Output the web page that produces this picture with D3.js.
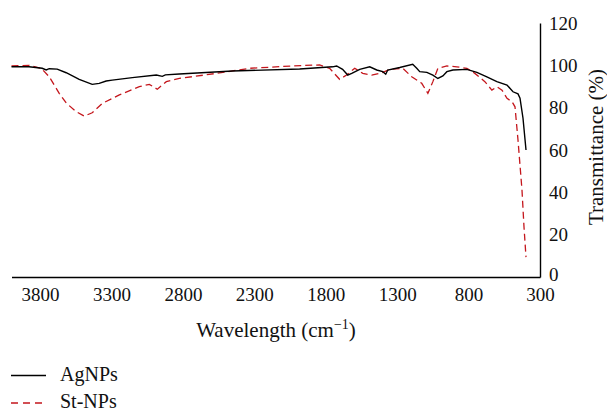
<!DOCTYPE html>
<html><head><meta charset="utf-8">
<script src="https://cdn.jsdelivr.net/npm/d3@7"></script>
<style>
html,body{margin:0;padding:0;background:#fff;}
svg{display:block;font-family:"Liberation Serif","DejaVu Serif",serif;}
</style></head>
<body><svg id="c" width="607" height="412"></svg>
<script>
// Data
const agWave = [4000,3877,3785,3757,3736,3680,3617,3526,3435,3386,3337,3295,3154,2986,2944,2923,2825,2453,1983,1752,1724,1682,1646,1618,1562,1492,1443,1401,1380,1366,1282,1191,1163,1142,1092,1050,1015,980,952,910,812,742,672,602,531,489,454,440,419,398];
const agT    = [99.3,99.3,98.6,97.8,98.4,98.2,96.5,93.4,91.0,91.5,92.6,93.0,94.2,95.4,94.8,95.5,95.9,97.3,98.3,99.3,99.7,98.1,95.4,96.2,98.1,99.3,97.8,97.0,95.8,97.8,99.0,100.5,98.6,97.0,96.7,95.4,93.8,95.0,97.0,97.8,98.1,96.7,94.6,92.3,90.7,87.5,86.5,84.5,75.0,60.0];
const stWave = [4000,3877,3792,3736,3666,3617,3547,3491,3435,3365,3245,3105,3035,2979,2916,2825,2565,2334,2032,1843,1773,1703,1654,1597,1541,1478,1408,1352,1261,1198,1128,1085,1050,1015,952,882,812,756,686,637,602,566,531,496,475,454,426,412,398];
const stT    = [99.7,100.0,98.6,94.6,86.8,82.2,78.1,76.0,77.6,82.0,86.0,89.9,91.0,88.7,92.3,93.8,96.2,98.6,99.7,100.2,98.6,93.4,95.4,98.6,96.2,95.4,96.5,98.1,98.6,94.6,91.5,86.8,92.3,98.6,99.7,99.3,98.6,96.2,92.3,88.3,89.9,88.3,84.4,82.8,80.4,64.7,41.0,23.6,9.4];
const xTicks = [3800,3300,2800,2300,1800,1300,800,300];
const yTicks = [0,20,40,60,80,100,120];
const seriesNames = ["AgNPs","St-NPs"];
const seriesColors = ["#000000","#c4161c"];

const svg = d3.select("#c");
const x = d3.scaleLinear().domain([4000,300]).range([11.5,540]);
const y = d3.scaleLinear().domain([0,120]).range([277,23]);

// Bottom axis (no tick marks)
const xa = svg.append("g").attr("transform","translate(0,277)")
  .call(d3.axisBottom(x).tickValues(xTicks).tickSize(0).tickPadding(11).tickFormat(d3.format("d")));
xa.select(".domain").attr("stroke","#000").attr("stroke-width",1.4);
xa.selectAll("text").attr("font-size",19).attr("font-family","Liberation Serif").attr("fill","#111");

// Right axis
const ya = svg.append("g").attr("transform","translate(540,0)")
  .call(d3.axisRight(y).tickValues(yTicks).tickSize(0).tickPadding(9));
ya.select(".domain").attr("stroke","#000").attr("stroke-width",1.4);
ya.selectAll("text").attr("font-size",19).attr("font-family","Liberation Serif").attr("fill","#111");
ya.selectAll(".tick").filter(d=>d===0).select("text").attr("dy","0.2em");

const line = d3.line().x(d=>x(d[0])).y(d=>y(d[1])).curve(d3.curveLinear);

svg.append("path").datum(d3.zip(stWave,stT))
  .attr("d",line).attr("fill","none").attr("stroke",seriesColors[1])
  .attr("stroke-width",1.3).attr("stroke-dasharray","7,4");
svg.append("path").datum(d3.zip(agWave,agT))
  .attr("d",line).attr("fill","none").attr("stroke",seriesColors[0])
  .attr("stroke-width",1.4);

// Axis titles
const xt = svg.append("text").attr("x",276).attr("y",337).attr("text-anchor","middle")
  .attr("font-size",21).attr("fill","#111");
xt.append("tspan").text("Wavelength (cm");
xt.append("tspan").text("\u22121").attr("font-size",14).attr("dy",-8);
xt.append("tspan").text(")").attr("dy",8);

svg.append("text").attr("transform","translate(603,147) rotate(-90)")
  .attr("text-anchor","middle").attr("font-size",21).attr("fill","#111")
  .text("Transmittance (%)");

// Legend
const lg = svg.append("g");
seriesNames.forEach((n,i)=>{
  const yy = 375.5 + i*27.5;
  lg.append("line").attr("x1",11).attr("x2",46).attr("y1",yy).attr("y2",yy)
    .attr("stroke",seriesColors[i]).attr("stroke-width",1.4)
    .attr("stroke-dasharray", i===1 ? "7,5" : null);
  lg.append("text").attr("x",60).attr("y",yy+5).attr("font-size",20).attr("fill","#111").text(n);
});
</script></body></html>
